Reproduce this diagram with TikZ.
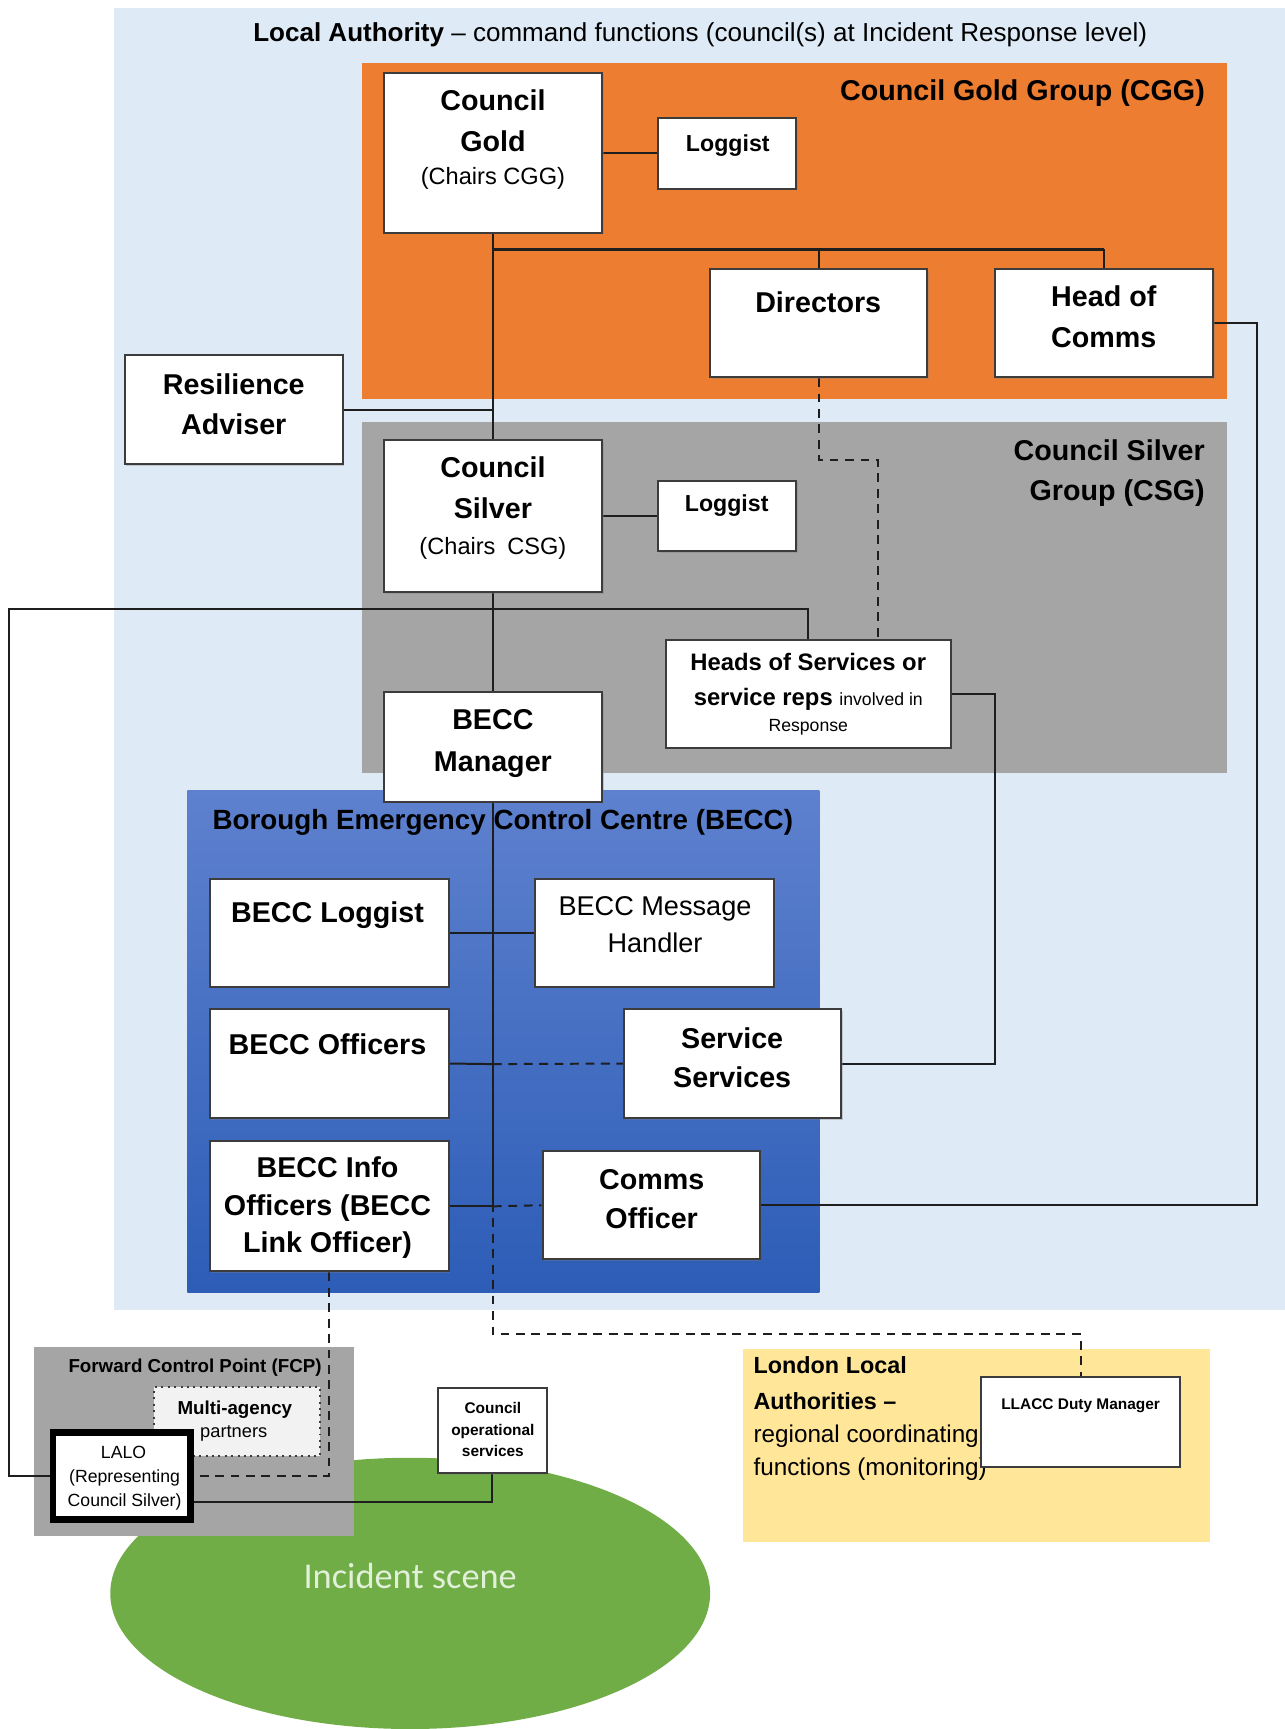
\documentclass[tikz,border=0pt]{standalone}
\usepackage{fontspec}
\setmainfont{Liberation Sans}
\newfontfamily\calfont{Carlito}
\usetikzlibrary{fit,shadows,calc}
\definecolor{labg}{RGB}{222,235,247}
\definecolor{cggor}{RGB}{237,125,49}
\definecolor{csggr}{RGB}{165,165,165}
\definecolor{bectop}{RGB}{94,129,206}
\definecolor{becbot}{RGB}{45,93,183}
\definecolor{llay}{RGB}{255,230,153}
\definecolor{scgr}{RGB}{112,173,71}
\definecolor{scetxt}{RGB}{226,240,217}
\definecolor{bdr}{RGB}{60,60,60}
\definecolor{lnc}{RGB}{30,30,30}
\definecolor{mapf}{RGB}{242,242,242}
\pgfdeclarelayer{back}
\pgfdeclarelayer{mid}
\pgfsetlayers{back,mid,main}
\begin{document}
\begin{tikzpicture}[x=0.5pt,y=-0.5pt,
  box/.style={draw=bdr, fill=white, line width=0.9pt, inner sep=0pt,
    drop shadow={shadow xshift=0.7pt, shadow yshift=-0.7pt, opacity=0.35}},
  conn/.style={draw=lnc, line width=0.9pt},
  bar/.style={draw=lnc, line width=1.5pt},
  dconn/.style={conn, dash pattern=on 4pt off 3pt},
  tx/.style={anchor=base, inner sep=0pt},
  tb/.style={tx, font=\fontsize{13}{15}\selectfont\bfseries},
  tbm/.style={tx, font=\fontsize{10.5}{13}\selectfont\bfseries},
  trm/.style={tx, font=\fontsize{10.7}{13}\selectfont},
  tbs/.style={tx, font=\fontsize{8.5}{10}\selectfont\bfseries},
  trs/.style={tx, font=\fontsize{8}{10}\selectfont},
  tbx/.style={tx, font=\fontsize{7}{9}\selectfont\bfseries}
]
\useasboundingbox (0,0) rectangle (1165,1568);

% ---------- regions ----------
\begin{pgfonlayer}{back}
\fill[labg] (103,7) rectangle (1165,1188);
\fill[cggor] (328,57) rectangle (1113,362);
\fill[csggr] (328,383) rectangle (1113,701);
\shade[top color=bectop, bottom color=becbot] (170,717) rectangle (743,1172);
\fill[scgr] (372,1445) ellipse [x radius=136pt, y radius=61.5pt];
\fill[csggr] (31,1222) rectangle (321,1393);
\fill[llay] (674,1223) rectangle (1097,1398);

\node[tx, font=\fontsize{11.8}{14}\selectfont] (latitle) at (635,38)
  {\textbf{Local Authority} – command functions (council(s) at Incident Response level)};
\node[tb, anchor=base east] (cggt) at (1093,91) {Council Gold Group (CGG)};
\node[tb, anchor=base east] (csgt1) at (1093,418) {Council Silver};
\node[tb, anchor=base east] (csgt2) at (1093,454) {Group (CSG)};
\node[tx, font=\fontsize{12.6}{15}\selectfont\bfseries] (bect) at (456,752)
  {Borough Emergency Control Centre (BECC)};
\node[tbs, anchor=base east] (fcpt) at (292,1245) {Forward Control Point (FCP)};
\node[tx, anchor=base west, font=\fontsize{10.6}{13}\selectfont\bfseries] (ll1) at (683,1246) {London Local};
\node[tx, anchor=base west, font=\fontsize{10.6}{13}\selectfont\bfseries] (ll2) at (683,1278) {Authorities –};
\node[tx, anchor=base west, font=\fontsize{11}{13}\selectfont] (ll3) at (683,1308) {regional coordinating};
\node[tx, anchor=base west, font=\fontsize{11}{13}\selectfont] (ll4) at (683,1338) {functions (monitoring)};
\node[tx, text=scetxt, font=\calfont\fontsize{16.5}{20}\selectfont] (inc) at (372,1441) {Incident scene};
\end{pgfonlayer}

% ---------- boxes ----------
\node[box, fit={(348,66) (546,211)}] (cgold) {};
\node[box, fit={(597,107) (722,171)}] (glog) {};
\node[box, fit={(644,244) (841,342)}] (dirs) {};
\node[box, fit={(902,244) (1100,342)}] (hoc) {};
\node[box, fit={(113,322) (311,421)}] (resil) {};
\node[box, fit={(348,399) (546,537)}] (csilver) {};
\node[box, fit={(597,436) (722,500)}] (slog) {};
\node[box, fit={(604,580) (862,678)}] (heads) {};
\node[box, fit={(348,628) (546,727)}] (beccm) {};
\node[box, fit={(190,797) (407,895)}] (bloggist) {};
\node[box, fit={(485,797) (702,895)}] (bmsg) {};
\node[box, fit={(190,915) (407,1014)}] (boff) {};
\node[box, fit={(566,915) (763,1014)}] (svc) {};
\node[box, fit={(190,1035) (407,1153)}] (binfo) {};
\node[box, fit={(492,1044) (689,1142)}] (comms) {};
\node[draw=bdr, dotted, line width=0.9pt, fill=mapf, inner sep=0pt, fit={(140,1258) (290,1320)}] (multi) {};
\node[draw=black, line width=3pt, fill=white, inner sep=0pt, fit={(48,1299) (173,1378)}] (lalo) {};
\node[box, fit={(397,1259) (496,1336)}] (cops) {};
\node[box, fit={(890,1249) (1070,1330)}] (llacc) {};

% ---------- connectors ----------
\begin{pgfonlayer}{mid}
\coordinate (gbar) at (447,226);
\coordinate (dbend) at (796,417);
\coordinate (lft) at (8,552);
\coordinate (hocr) at (1140,293);
\coordinate (hsr) at (902,629);
\coordinate (jo) at (447,965);
\coordinate (ji) at (447,1094);
\coordinate (bot) at (447,1210);

\draw[conn] (cgold.east) -- (glog.west |- cgold.east);
\draw[bar] (gbar) -- (gbar -| hoc.north);
\draw[conn] (gbar -| hoc.north) -- (hoc.north);
\draw[conn] (gbar -| dirs.north) -- (dirs.north);
\draw[conn] (cgold.south) -- (csilver.north);
\draw[conn] (resil.east) -- (resil.east -| csilver.north);
\draw[conn] (csilver.east) -- (slog.west);
\draw[conn] (csilver.south) -- (beccm.north);
\draw[conn] (heads.north) |- (lft) |- (lalo.west);
\draw[dconn] (dirs.south) |- (dbend) -- (dbend |- heads.north);
\draw[conn] (hoc.east) -- (hocr) |- (comms.east);
\draw[conn] (heads.east) -- (hsr) |- (svc.east);
\draw[conn] (beccm.south) -- (ji);
\draw[conn] (bloggist.east) -- (bmsg.west);
\draw[conn] (boff.east) -- (jo);
\draw[dconn] (jo) -- (svc.west);
\draw[conn] (binfo.east) -- (ji);
\draw[dconn] (ji) -- (comms.west);
\draw[dconn] (jo) -- (bot) -| (llacc.north);
\draw[dconn] (binfo.south) |- (lalo.east);
\draw[conn] (cops.south) |- ($(lalo.east)!0.55!(lalo.south east)$);
\end{pgfonlayer}

% ---------- box texts ----------
\node[tb] (cg1) at (447,100) {Council};
\node[tb] (cg2) at (447,137) {Gold};
\node[trm] (cg3) at (447,167) {(Chairs CGG)};
\node[tbm] (gl1) at (660,137) {Loggist};
\node[tb] (di1) at (742,283) {Directors};
\node[tb] (hc1) at (1001,278) {Head of};
\node[tb] (hc2) at (1001,315) {Comms};
\node[tb] (ra1) at (212,358) {Resilience};
\node[tb] (ra2) at (212,394) {Adviser};
\node[tb] (cs1) at (447,433) {Council};
\node[tb] (cs2) at (447,470) {Silver};
\node[trm] (cs3) at (447,503) {(Chairs\enspace CSG)};
\node[tbm] (sl1) at (659,464) {Loggist};
\node[tx, font=\fontsize{10.8}{13}\selectfont\bfseries] (hs1) at (733,608) {Heads of Services or};
\node[tx, font=\fontsize{10.8}{13}\selectfont] (hs2) at (733,640) {\textbf{service reps} {\fontsize{8}{10}\selectfont involved in}};
\node[trs] (hs3) at (733,663) {Response};
\node[tb] (bm1) at (447,662) {BECC};
\node[tb] (bm2) at (447,700) {Manager};
\node[tb] (bl1) at (297,837) {BECC Loggist};
\node[tx, font=\fontsize{12.3}{15}\selectfont] (mh1) at (594,830) {BECC Message};
\node[tx, font=\fontsize{12.3}{15}\selectfont] (mh2) at (594,864) {Handler};
\node[tb] (bo1) at (297,956) {BECC Officers};
\node[tb] (sv1) at (664,951) {Service};
\node[tb] (sv2) at (664,986) {Services};
\node[tb] (bi1) at (297,1068) {BECC Info};
\node[tb] (bi2) at (297,1102) {Officers (BECC};
\node[tb] (bi3) at (297,1136) {Link Officer)};
\node[tb] (co1) at (591,1079) {Comms};
\node[tb] (co2) at (591,1114) {Officer};
\node[tbs] (ma1) at (213,1283) {Multi-agency};
\node[tx, font=\fontsize{8.3}{10}\selectfont] (ma2) at (212,1304) {partners};
\node[trs] (la1) at (112,1323) {LALO};
\node[trs] (la2) at (113,1344) {(Representing};
\node[trs] (la3) at (113,1366) {Council Silver)};
\node[tbx] (op1) at (447,1282) {Council};
\node[tbx] (op2) at (447,1302) {operational};
\node[tbx] (op3) at (447,1321) {services};
\node[tbx] (lc1) at (980,1278) {LLACC Duty Manager};
\end{tikzpicture}
\end{document}
